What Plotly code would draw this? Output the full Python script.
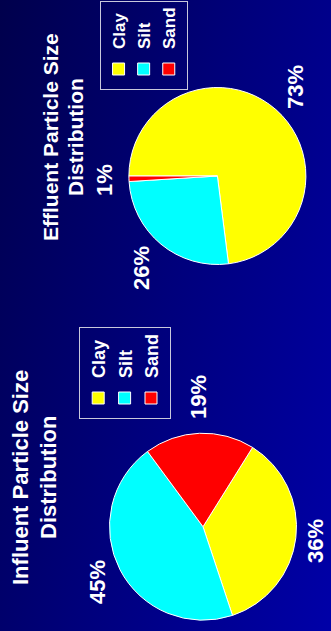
import math
import plotly.graph_objects as go

# Particle size fractions (percent) for the two samples
fractions = ["Clay", "Silt", "Sand"]
influent_pct = [36, 45, 19]
effluent_pct = [73, 26, 1]

influent_title = ["Influent Particle Size", "Distribution"]
effluent_title = ["Effluent Particle Size", "Distribution"]

slice_colors = ["#ffff00", "#00ffff", "#ff0000"]

# The slide is laid out landscape and turned a quarter turn for display
W, H = 631, 331
FONT = "Arial, 'Liberation Sans', sans-serif"

# pie centres / radii in slide pixels, start angle (clockwise from 12 o'clock)
PIES = [
    dict(name="influent", values=influent_pct, cx=104.3, cy=203.0, r=93.5,
         rotation=122, legend="legend"),
    dict(name="effluent", values=effluent_pct, cx=455.0, cy=217.4, r=88.5,
         rotation=0, legend="legend2"),
]

fig = go.Figure()
annotations = []
LABEL_SIZE = 22
GAP = 14

for p in PIES:
    cx, cy, r = p["cx"], p["cy"], p["r"]
    fig.add_trace(go.Pie(
        name=p["name"],
        labels=fractions,
        values=p["values"],
        sort=False,
        direction="clockwise",
        rotation=p["rotation"],
        marker=dict(colors=slice_colors, line=dict(color="white", width=1)),
        textinfo="none",
        hoverinfo="label+percent",
        domain=dict(x=[(cx - r) / W, (cx + r) / W],
                    y=[1 - (cy + r) / H, 1 - (cy - r) / H]),
        legend=p["legend"],
        legendgroup=p["name"],
        showlegend=True,
    ))

    # percentage labels just outside each slice, kept inside the slide
    total = float(sum(p["values"]))
    cum = 0.0
    for v in p["values"]:
        mid = math.radians(p["rotation"] + 360.0 * (cum + v / 2.0) / total)
        cum += v
        dx, dy = math.sin(mid), -math.cos(mid)
        text = f"{round(100 * v / total)}%"
        tw = LABEL_SIZE * (0.556 * (len(text) - 1) + 0.889)
        th = LABEL_SIZE * 0.95
        half = min(tw / 2 / max(abs(dx), 1e-6), th / 2 / max(abs(dy), 1e-6))
        d = r + GAP + half
        lx = cx + d * dx
        ly = min(cy + d * dy, H - LABEL_SIZE * 0.72)
        annotations.append(dict(
            x=lx / W, y=1 - ly / H,
            xref="paper", yref="paper", xanchor="center", yanchor="middle",
            text=f"<b>{text}</b>", showarrow=False,
            font=dict(family=FONT, size=LABEL_SIZE, color="white"),
        ))

# chart titles, one annotation per line
for lines, xc, ys, size in [
    (influent_title, 153.0, [20.5, 48.5], 22),
    (effluent_title, 493.5, [50.5, 75.5], 21),
]:
    for line, yc in zip(lines, ys):
        annotations.append(dict(
            x=xc / W, y=1 - yc / H, xref="paper", yref="paper",
            xanchor="center", yanchor="middle",
            text=f"<b>{line}</b>", showarrow=False,
            font=dict(family=FONT, size=size, color="white"),
        ))

legend_style = dict(
    bgcolor="rgba(0,0,0,0)", bordercolor="#c8c8dc", borderwidth=1,
    xanchor="left", yanchor="top", traceorder="normal",
)

fig.update_layout(
    width=W, height=H,
    margin=dict(l=0, r=0, t=0, b=0),
    paper_bgcolor="rgba(0,0,0,0)",
    plot_bgcolor="rgba(0,0,0,0)",
    annotations=annotations,
    legend=dict(x=212 / W, y=1 - 79 / H,
                font=dict(family=FONT, size=18, color="white", weight="bold"),
                **legend_style),
    legend2=dict(x=541 / W, y=1 - 100 / H,
                 font=dict(family=FONT, size=17, color="white", weight="bold"),
                 **legend_style),
)

# blue slide background and quarter-turn into the portrait page
post = """
var gd = document.getElementById('{plot_id}');
document.documentElement.style.margin = '0';
document.body.style.margin = '0';
document.documentElement.style.overflow = 'hidden';
document.body.style.overflow = 'hidden';
gd.style.background = 'linear-gradient(195deg, #00004c 0%, #00007c 50%, #0000a8 100%)';
gd.style.position = 'absolute';
gd.style.left = '0px';
gd.style.top = '0px';
gd.style.transformOrigin = '0 0';
gd.style.transform = 'translate(0px, 631px) rotate(-90deg)';
"""

fig.write_html("out.html", config={"displayModeBar": False}, post_script=post)
